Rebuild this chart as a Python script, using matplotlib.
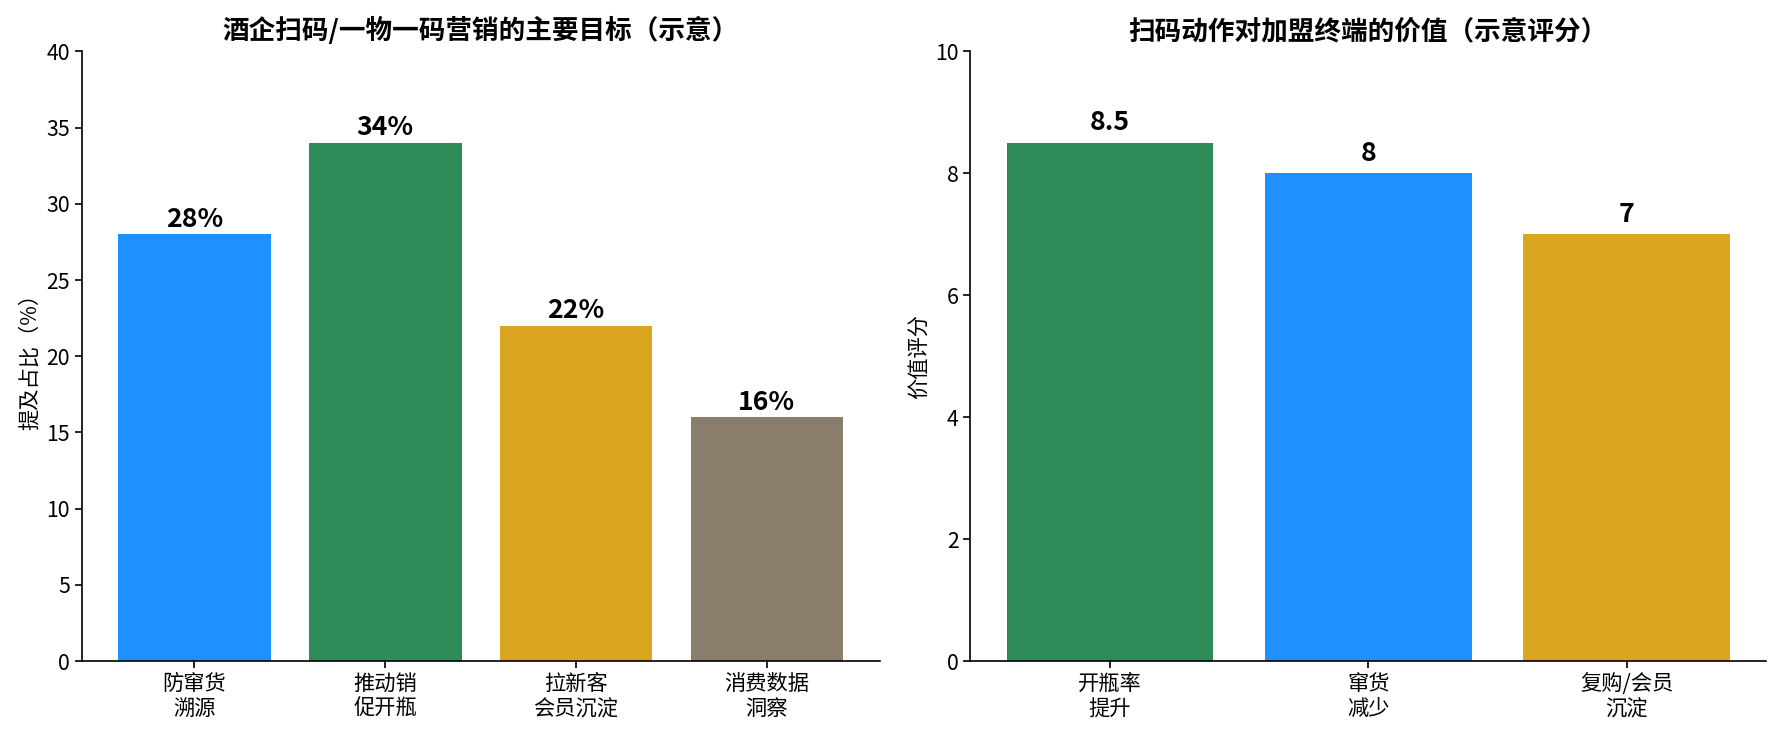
import matplotlib as mpl
import matplotlib.pyplot as plt

mpl.rcParams['font.family'] = ['Noto Sans CJK SC', 'DejaVu Sans']
mpl.rc('axes.spines', top=False, right=False)

# left panel data
goals = ['防窜货\n溯源', '推动销\n促开瓶', '拉新客\n会员沉淀', '消费数据\n洞察']
goal_share = [28, 34, 22, 16]
goal_colors = ['#1E90FF', '#2E8B57', '#DAA520', '#8B7D6B']

# right panel data
values = ['开瓶率\n提升', '窜货\n减少', '复购/会员\n沉淀']
value_score = [8.5, 8, 7]
value_colors = ['#2E8B57', '#1E90FF', '#DAA520']


def add_axes1(fig, lm, bm, rm, tm):
    ax = fig.add_axes((lm, bm, rm - lm, tm - bm))
    return ax


fig = plt.figure(figsize=(17.84, 7.35), dpi=100)

ax1 = add_axes1(fig, 0.0459, 0.1006, 0.493, 0.930)
ax1.bar(range(len(goals)), goal_share, color=goal_colors, width=0.8)
ax1.set_xticks(range(len(goals)), goals)
ax1.set_ylim(0, 40)
ax1.set_ylabel('提及占比（%）', fontsize=15.3)
ax1.set_title('酒企扫码/一物一码营销的主要目标（示意）', fontsize=19.2, fontweight='bold', pad=9)
for i, v in enumerate(goal_share):
    ax1.text(i, v + 0.1, f'{v}%', ha='center', va='bottom',
             fontsize=19.2, fontweight='bold')

ax2 = add_axes1(fig, 0.544, 0.1006, 0.990, 0.930)
ax2.bar(range(len(values)), value_score, color=value_colors, width=0.8)
ax2.set_xticks(range(len(values)), values)
ax2.set_ylim(0, 10)
ax2.set_ylabel('价值评分', fontsize=15.3)
ax2.set_title('扫码动作对加盟终端的价值（示意评分）', fontsize=19.2, fontweight='bold', pad=9)
for i, v in enumerate(value_score):
    ax2.text(i, v + 0.11, f'{v:g}', ha='center', va='bottom',
             fontsize=19.2, fontweight='bold')

for ax in (ax1, ax2):
    ax.tick_params(labelsize=15.3, length=5, width=1.2)
    for s in ('left', 'bottom'):
        ax.spines[s].set_linewidth(1.2)

fig.savefig('out.png', dpi=100)
